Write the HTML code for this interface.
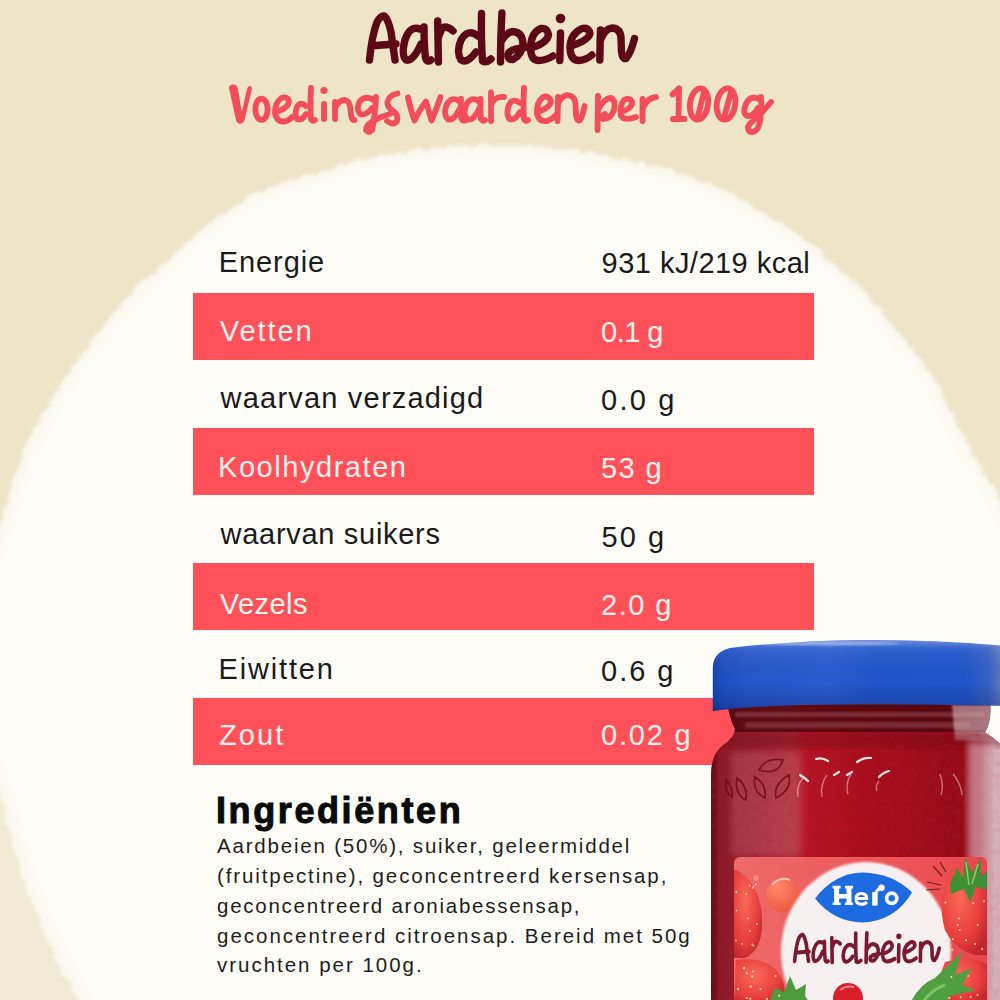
<!DOCTYPE html>
<html><head><meta charset="utf-8">
<style>
html,body{margin:0;padding:0;}
body{width:1000px;height:1000px;overflow:hidden;position:relative;background:#ECE2C6;font-family:"Liberation Sans",sans-serif;}
.abs{position:absolute;}
#bg{position:absolute;left:0;top:0;width:1000px;height:1000px;}
.bar{position:absolute;left:193px;width:621px;height:67px;background:#FF5159;}
.t{position:absolute;font-size:29px;line-height:29px;white-space:nowrap;color:#1a1a1a;letter-spacing:0.8px;}
.w{color:#FFF1EC;}
.ing{position:absolute;left:217px;font-size:20.5px;line-height:20px;white-space:nowrap;color:#1d1d1d;letter-spacing:1.75px;}
</style></head>
<body>
<svg id="bg" width="1000" height="1000" viewBox="0 0 1000 1000">
  <defs>
    <filter id="rough" x="-10%" y="-10%" width="120%" height="120%">
      <feTurbulence type="fractalNoise" baseFrequency="0.09" numOctaves="3" seed="7" result="n"/>
      <feDisplacementMap in="SourceGraphic" in2="n" scale="10" xChannelSelector="R" yChannelSelector="G"/>
      <feGaussianBlur stdDeviation="1.4"/>
    </filter>
    <filter id="soft" x="-10%" y="-10%" width="120%" height="120%">
      <feGaussianBlur stdDeviation="6"/>
    </filter>
  </defs>
  <rect width="1000" height="1000" fill="#EEE4C8"/>
  <ellipse cx="40" cy="900" rx="90" ry="200" fill="#ffffff" opacity="0.22" filter="url(#soft)"/>
  <path d="M-20.0 580.0 C-17.5 573.3 -9.7 553.3 -5.0 540.0 C-0.3 526.7 3.2 514.7 8.0 500.0 C12.8 485.3 18.0 466.7 24.0 452.0 C30.0 437.3 36.0 426.0 44.0 412.0 C52.0 398.0 62.7 381.3 72.0 368.0 C81.3 354.7 90.0 344.7 100.0 332.0 C110.0 319.3 120.7 304.0 132.0 292.0 C143.3 280.0 155.3 271.3 168.0 260.0 C180.7 248.7 192.7 235.3 208.0 224.0 C223.3 212.7 241.3 200.7 260.0 192.0 C278.7 183.3 296.7 178.7 320.0 172.0 C343.3 165.3 370.0 156.5 400.0 152.0 C430.0 147.5 466.7 144.5 500.0 145.0 C533.3 145.5 566.7 149.2 600.0 155.0 C633.3 160.8 670.8 169.2 700.0 180.0 C729.2 190.8 755.2 208.2 775.0 220.0 C794.8 231.8 805.3 240.2 819.0 251.0 C832.7 261.8 843.5 271.0 857.0 285.0 C870.5 299.0 887.0 319.2 900.0 335.0 C913.0 350.8 924.2 362.5 935.0 380.0 C945.8 397.5 954.2 420.0 965.0 440.0 C975.8 460.0 989.2 478.3 1000.0 500.0 C1010.8 521.7 1021.7 546.7 1030.0 570.0 C1038.3 593.3 1046.7 628.3 1050.0 640.0 L1060 1060 L100 1060 L100 1050 C96.3 1041.7 83.2 1010.8 78.0 1000.0 C72.8 989.2 74.5 996.0 69.0 985.0 C63.5 974.0 52.5 951.5 45.0 934.0 C37.5 916.5 30.0 898.0 24.0 880.0 C18.0 862.0 13.8 842.7 9.0 826.0 C4.2 809.3 -0.2 794.3 -5.0 780.0 C-9.8 765.7 -17.5 746.7 -20.0 740.0 Z" fill="#FAF7EC" filter="url(#rough)"/>
  <path d="M-20.0 580.0 C-17.5 573.3 -9.7 553.3 -5.0 540.0 C-0.3 526.7 3.2 514.7 8.0 500.0 C12.8 485.3 18.0 466.7 24.0 452.0 C30.0 437.3 36.0 426.0 44.0 412.0 C52.0 398.0 62.7 381.3 72.0 368.0 C81.3 354.7 90.0 344.7 100.0 332.0 C110.0 319.3 120.7 304.0 132.0 292.0 C143.3 280.0 155.3 271.3 168.0 260.0 C180.7 248.7 192.7 235.3 208.0 224.0 C223.3 212.7 241.3 200.7 260.0 192.0 C278.7 183.3 296.7 178.7 320.0 172.0 C343.3 165.3 370.0 156.5 400.0 152.0 C430.0 147.5 466.7 144.5 500.0 145.0 C533.3 145.5 566.7 149.2 600.0 155.0 C633.3 160.8 670.8 169.2 700.0 180.0 C729.2 190.8 755.2 208.2 775.0 220.0 C794.8 231.8 805.3 240.2 819.0 251.0 C832.7 261.8 843.5 271.0 857.0 285.0 C870.5 299.0 887.0 319.2 900.0 335.0 C913.0 350.8 924.2 362.5 935.0 380.0 C945.8 397.5 954.2 420.0 965.0 440.0 C975.8 460.0 989.2 478.3 1000.0 500.0 C1010.8 521.7 1021.7 546.7 1030.0 570.0 C1038.3 593.3 1046.7 628.3 1050.0 640.0 L1060 1060 L100 1060 L100 1050 C96.3 1041.7 83.2 1010.8 78.0 1000.0 C72.8 989.2 74.5 996.0 69.0 985.0 C63.5 974.0 52.5 951.5 45.0 934.0 C37.5 916.5 30.0 898.0 24.0 880.0 C18.0 862.0 13.8 842.7 9.0 826.0 C4.2 809.3 -0.2 794.3 -5.0 780.0 C-9.8 765.7 -17.5 746.7 -20.0 740.0 Z" fill="#FDFCF7" filter="url(#soft)" transform="translate(500 640) scale(0.986) translate(-500 -640)"/>
</svg>

<svg class="abs" style="left:0;top:0" width="1000" height="150" viewBox="0 0 1000 150">
<g fill="none" stroke="#5C0915" stroke-width="7.4" stroke-linecap="round" stroke-linejoin="round">
<path d="M369.5 60 Q372 35 377 22 Q381 15 384.5 16 Q388 19 391 32 L395 60"/><path d="M375.5 45.5 L396 44"/>
<path d="M420 29 Q410 25 405 40 Q401 55 406 60 Q413 62 421 44"/><path d="M424 27 Q424 45 425.5 58 Q427 63 431 60"/>
<path d="M437.7 21 Q438 42 438.4 62"/><path d="M438.4 37 Q442 27 444.5 27 Q449 27 453 31"/>
<path d="M478 36 Q468 28 461 40 Q456 52 461 60 Q467 64 476 52"/><path d="M481.5 13.5 Q481 40 482.5 61 Q486 63 491 59"/>
<path d="M501.9 13 Q500.5 40 500.5 62"/><path d="M502 40 Q507 32 513 31.5 Q522 32 523 43 Q522 55 513 59.5 Q507 60 508 54 Q510 49 525 47.5"/>
<path d="M531 48 Q547 43 548.5 35 Q547.5 27.5 541 28.5 Q531.5 32 530.5 47 Q530.5 60 538 60.5 Q546 60.5 553 56"/>
<path d="M560.5 33 L559.8 60.5"/>
<path d="M571 46 Q589 40 590 33.5 Q588.5 27 582 28.5 Q570 34 570 48 Q570.5 60.5 579 60.5 Q586 60 592 55"/>
<path d="M600.5 30 Q600 46 599.8 60"/><path d="M600.5 40 Q605 28.5 612 28 Q620.5 28.5 621 38 L621.5 52 Q622.5 59.5 626 58.5 Q631 53 634.5 38.5"/>
</g>
<circle cx="560.5" cy="18.5" r="4.8" fill="#5C0915"/>
<g fill="none" stroke="#F24D58" stroke-width="5.8" stroke-linecap="round" stroke-linejoin="round">

<ellipse cx="261.5" cy="109.3" rx="6.2" ry="10.6"/>
<path d="M275.5 112 Q289 108 289 101 Q287.5 96 281.5 98 Q274.5 103 275 113 Q276.5 122 284 121.5 Q289 121 292 117"/>
<path d="M306 106 Q300 101 297 107 Q294 115 297 119 Q302 121 306 114"/><path d="M311 88 Q310 105 311 119 Q312 122 315 120"/>
<path d="M324 104 L324 119"/>
<path d="M335 102 L335 119"/><path d="M335 108 Q339 100 345 100 Q350 101 350.5 110 Q351 121 354.5 120"/>
<path d="M374 100 Q366 95 360 101 Q355.5 109 360 114 Q366 116 372 108"/><path d="M376 97 Q375 118 372 130 Q369 134 366 130 Q366 125 373 121 Q382 116 390 114"/>
<path d="M397.5 93.5 Q389 95 387.5 102 Q387 107 393 111 Q399 115 397 121 Q394 126 387 121"/>
<path d="M408 97.5 Q411 111 414.5 120.5 Q420 109 426 101.5 Q429 112 431.5 120.5 Q437 108 440.5 97"/>
<path d="M459 101 Q451 96 446.5 105 Q443 115 448 119.5 Q454 121 459.5 109"/><path d="M461 99 Q460.5 112 461.5 119 Q463 122 466 120"/>
<path d="M478.5 101 Q470.5 96 466 105 Q462.5 115 467.5 119.5 Q473.5 121 479 109"/><path d="M480.6 99 Q480 112 481 119 Q482.5 122 485 120"/>
<path d="M491 92.5 L491 121"/><path d="M491.5 104 Q495 96 504 97"/>
<path d="M520 103 Q512 97 508.5 106 Q506 115 509.5 119 Q515 121 520 112"/><path d="M524 88 Q523 105 524 119 Q525 122 528 120"/>
<path d="M538 112 Q551 107 551 101 Q549 95 543 97 Q536 103 537 114 Q539 122 547 121 Q553 119 557 114"/>
<path d="M558 97 L557.5 121"/><path d="M558 104 Q562 95 568 95 Q575 96 575.5 104 L576 115 Q577 122 580 120 Q583 115 584.5 106"/>
<path d="M598 96 L597.5 130"/><path d="M598 110 Q604 98 611 98 Q616 100 614 110 Q611 119 603 119 Q600 116 605 114"/>
<path d="M621 112 Q633 108 632 102 Q630 97 624 100 Q619 106 621 116 Q625 121 636 117"/>
<path d="M642.5 99 L642.5 121"/><path d="M643 108 Q647 98 656 97"/>
<path d="M672.5 94.5 L679 88.5"/><path d="M679 88.5 L678.5 119"/><path d="M673 119 L684.5 119"/>
<ellipse cx="699" cy="104" rx="9" ry="15.8" transform="rotate(8 699 104)"/><path d="M698 116 L704 92"/>
<ellipse cx="726" cy="104" rx="9.2" ry="15.8" transform="rotate(8 726 104)"/><path d="M724.5 116 L731 92"/>
<path d="M759 99 Q750 95 746 104 Q742 113 747 116 Q753 117 758 108"/><path d="M761 97 Q762 118 758 128 Q754 134 749 131 Q746 126 753 121 Q761 114 771 102"/>
</g>
<circle cx="324" cy="90.5" r="3.6" fill="#F24D58"/>
<path d="M229 88 Q229 84.5 233 84.5 Q237 84.5 237.8 88.5 L241.8 112 L247 89 Q248 85.5 250 86 Q252.5 86.5 251.8 89.5 L244.5 120 Q243 123.8 240 123.8 Q237 123.8 236 120 Z" fill="#F24D58"/>
</svg>

<div class="bar" style="top:293px"></div>
<div class="bar" style="top:428px"></div>
<div class="bar" style="top:563px"></div>
<div class="bar" style="top:698px"></div>

<div class="t" style="left:218.8px;top:248px;letter-spacing:0.9px">Energie</div>
<div class="t" style="left:601.6px;top:249px;letter-spacing:0.47px">931 kJ/219 kcal</div>
<div class="t w" style="left:219.8px;top:316.6px;letter-spacing:1.9px">Vetten</div>
<div class="t w" style="left:601px;top:318.2px;letter-spacing:-0.5px">0.1 g</div>
<div class="t" style="left:220.6px;top:383.8px;letter-spacing:1.2px">waarvan verzadigd</div>
<div class="t" style="left:601px;top:386px;letter-spacing:2.25px">0.0 g</div>
<div class="t w" style="left:218px;top:452.8px;letter-spacing:1.55px">Koolhydraten</div>
<div class="t w" style="left:601px;top:454.4px;letter-spacing:1.4px">53 g</div>
<div class="t" style="left:220.6px;top:520.2px;letter-spacing:0.7px">waarvan suikers</div>
<div class="t" style="left:601.5px;top:522.5px;letter-spacing:2.1px">50 g</div>
<div class="t w" style="left:219.8px;top:589.6px;letter-spacing:0.45px">Vezels</div>
<div class="t w" style="left:601px;top:591px;letter-spacing:1.5px">2.0 g</div>
<div class="t" style="left:218.5px;top:655.2px;letter-spacing:1.83px">Eiwitten</div>
<div class="t" style="left:601px;top:656.5px;letter-spacing:2px">0.6 g</div>
<div class="t w" style="left:219px;top:720.6px;letter-spacing:2.07px">Zout</div>
<div class="t w" style="left:601px;top:721px;letter-spacing:1.8px">0.02 g</div>

<div class="abs" style="left:216px;top:793.4px;font-size:36px;line-height:36px;font-weight:bold;color:#0a0a0a;letter-spacing:2.6px;-webkit-text-stroke:1px #0a0a0a;white-space:nowrap;">Ingrediënten</div>
<div class="ing" style="top:836px;letter-spacing:1.8px">Aardbeien (50%), suiker, geleermiddel</div>
<div class="ing" style="top:865.5px;letter-spacing:1.89px">(fruitpectine), geconcentreerd kersensap,</div>
<div class="ing" style="top:896px">geconcentreerd aroniabessensap,</div>
<div class="ing" style="top:925.5px;letter-spacing:1.99px">geconcentreerd citroensap. Bereid met 50g</div>
<div class="ing" style="top:954.5px;letter-spacing:1.98px">vruchten per 100g.</div>

<svg class="abs" id="jar" style="left:0;top:0" width="1000" height="1000" viewBox="0 0 1000 1000">
  <defs>
    <linearGradient id="lidg" x1="0" y1="0" x2="1" y2="0">
      <stop offset="0" stop-color="#1644b0"/>
      <stop offset="0.03" stop-color="#1d4fc0"/>
      <stop offset="0.12" stop-color="#2656c8"/>
      <stop offset="0.4" stop-color="#2a5cd0"/>
      <stop offset="0.55" stop-color="#2054c8"/>
      <stop offset="0.86" stop-color="#1f55ca"/>
      <stop offset="0.94" stop-color="#3660c4"/>
      <stop offset="1" stop-color="#7080b8"/>
    </linearGradient>
    <linearGradient id="lidv" x1="0" y1="0" x2="0" y2="1">
      <stop offset="0" stop-color="#ffffff" stop-opacity="0.35"/>
      <stop offset="0.12" stop-color="#ffffff" stop-opacity="0.08"/>
      <stop offset="0.6" stop-color="#000000" stop-opacity="0"/>
      <stop offset="0.92" stop-color="#000030" stop-opacity="0.18"/>
      <stop offset="1" stop-color="#000030" stop-opacity="0.35"/>
    </linearGradient>
    <linearGradient id="bodyg" x1="0" y1="0" x2="1" y2="0">
      <stop offset="0" stop-color="#6c0c18"/>
      <stop offset="0.06" stop-color="#8c1a26"/>
      <stop offset="0.3" stop-color="#a82636"/>
      <stop offset="0.33" stop-color="#b41424"/>
      <stop offset="0.55" stop-color="#a80e1c"/>
      <stop offset="0.85" stop-color="#960a18"/>
      <stop offset="0.9" stop-color="#a82636"/>
      <stop offset="0.95" stop-color="#d4b4bc"/>
      <stop offset="1" stop-color="#ccacb4"/>
    </linearGradient>
    <linearGradient id="labg" x1="0" y1="0" x2="1" y2="0">
      <stop offset="0" stop-color="#ec6a68"/>
      <stop offset="0.5" stop-color="#ee5a5c"/>
      <stop offset="1" stop-color="#e8484e"/>
    </linearGradient>
    <radialGradient id="cloud" cx="0.5" cy="0.5" r="0.5">
      <stop offset="0.8" stop-color="#f8eeee"/>
      <stop offset="1" stop-color="#f8eeee" stop-opacity="0"/>
    </radialGradient>
    <radialGradient id="straw" cx="0.4" cy="0.35" r="0.7">
      <stop offset="0" stop-color="#fa6a58"/>
      <stop offset="0.7" stop-color="#e63c3c"/>
      <stop offset="1" stop-color="#c02830"/>
    </radialGradient>
    <radialGradient id="cher" cx="0.35" cy="0.3" r="0.7">
      <stop offset="0" stop-color="#ff8a68"/>
      <stop offset="1" stop-color="#ee5a44"/>
    </radialGradient>
    <filter id="blur1"><feGaussianBlur stdDeviation="1"/></filter>
    <filter id="jamtex" x="0" y="0" width="100%" height="100%">
      <feTurbulence type="fractalNoise" baseFrequency="0.18" numOctaves="2" seed="11"/>
      <feColorMatrix type="matrix" values="0 0 0 0 0.35  0 0 0 0 0.02  0 0 0 0 0.05  1.6 0 0 0 -0.75"/>
    </filter>
    <filter id="blur3"><feGaussianBlur stdDeviation="3"/></filter>
    <clipPath id="labclip"><rect x="734" y="857" width="253" height="150" rx="6"/></clipPath>
  </defs>
  <clipPath id="bodyclip"><path d="M727 700 L990 700 Q992 722 985 732 Q1000 742 1006 750 L1006 1006 L711 1006 L711 775 Q711 755 722 746 Q735 737 735 729 Q729 718 727 700 Z"/></clipPath>
  <g clip-path="url(#bodyclip)">
  <rect x="700" y="690" width="310" height="320" fill="url(#bodyg)"/>
  <!-- neck darker band -->
  <rect x="700" y="690" width="310" height="42" fill="#4a060c" opacity="0.8"/>
  <rect x="735" y="712" width="250" height="5" fill="#9a5058" opacity="0.55" filter="url(#blur1)"/>
  <rect x="745" y="722" width="225" height="6" fill="#9a5058" opacity="0.5" filter="url(#blur1)"/>
  <path d="M952 705 L995 705 L995 742 L955 740 Z" fill="#d8b8bc" opacity="0.6" filter="url(#blur1)"/>
  <!-- top band of body -->
  <rect x="700" y="732" width="310" height="16" fill="#6a0a14" opacity="0.35" filter="url(#blur3)"/>
  <!-- left glass highlight -->
  <rect x="731" y="752" width="72" height="104" fill="#e08890" opacity="0.25" filter="url(#blur3)"/>
  <!-- dark left edge -->
  <rect x="705" y="740" width="12" height="270" fill="#5a0a14" opacity="0.6" filter="url(#blur1)"/>
  <rect x="700" y="732" width="310" height="280" filter="url(#jamtex)" opacity="0.45"/>
  <!-- right glass reflection -->
  <path d="M968 742 Q985 742 1010 750 L1010 1010 L975 1010 Q966 900 968 742 Z" fill="#d8b0b8" opacity="0.6" filter="url(#blur3)"/>
  </g>
  <!-- embossed pattern -->
  <g fill="none" stroke="#6a0810" stroke-width="1.8" opacity="0.75">
    <path d="M759 770 Q766 757 783 760 Q778 776 759 770 Z"/>
    <path d="M737 778 Q748 786 746 800 Q734 794 737 778 Z"/>
    <path d="M755 777 Q767 784 765 798 Q752 792 755 777 Z"/>
    <path d="M789 775 Q792 790 776 798 Q773 784 789 775 Z"/>
    <path d="M726 780 Q734 788 732 797 Q724 792 726 780 Z"/>
  </g>
  <g fill="none" stroke="#ffffff" stroke-width="2.2" stroke-linecap="round" opacity="0.9">
    <path d="M800 775 Q805 778 808 781"/>
    <path d="M816 759 Q822 757 828 761"/>
    <path d="M834 775 L839 772"/>
    <path d="M857 762 Q864 757 871 758"/>
    <path d="M879 777 Q884 772 889 771"/>
    <path d="M847 775 L852 772"/>
  </g>
  <g fill="none" stroke="#f0c8c8" stroke-width="1.4" opacity="0.55">
    <path d="M803 778 Q796 786 798 797"/>
    <path d="M827 775 Q820 784 822 797"/>
    <path d="M851 774 Q845 784 848 794"/>
    <path d="M879 781 Q875 786 877 791"/>
    <path d="M940 774 Q944 785 941 795"/>
    <path d="M953 774 Q961 783 962 795"/>
  </g>
  <!-- label -->
  <g clip-path="url(#labclip)">
    <rect x="734" y="857" width="253" height="150" fill="url(#labg)"/>
    <!-- strawberries left -->
    <path d="M736 870 Q758 880 762 915 Q764 950 745 958 L734 958 L734 870 Z" fill="url(#straw)"/>
    <path d="M736 960 Q775 955 784 985 L786 1006 L734 1006 Z" fill="url(#straw)"/>
    <!-- cherry -->
    <circle cx="783" cy="895" r="17" fill="url(#cher)"/>
    <path d="M772 885 Q780 876 790 880" stroke="#ffd8d0" stroke-width="2" fill="none" opacity="0.8"/>
    <circle cx="756" cy="878" r="3" fill="#f8a090" opacity="0.6"/>
    <!-- white cloud -->
    <ellipse cx="866" cy="952" rx="85" ry="90" fill="#f7f0f0" filter="url(#blur1)"/>
    <!-- right strawberry -->
    <path d="M952 868 Q978 862 987 880 L987 955 Q960 958 945 930 Q936 900 952 868 Z" fill="url(#straw)"/>
    <path d="M950 884 L957 868 L963 878 L965 857 L972 873 L981 858 L980 877 L988 870 L988 890 L976 887 L970 902 L964 889 L951 894 Z" fill="#3f8f35"/>
    <path d="M966 862 L969 885 M978 864 L972 884" stroke="#8fcf6a" stroke-width="1.5" fill="none"/>
    <g stroke="#7a1a20" stroke-width="1.2">
      <path d="M927 882 L941 885"/><path d="M926 890 L940 889"/><path d="M933 866 L942 876"/><path d="M940 862 L946 872"/>
    </g>
    <!-- bottom right strawberry + leaves -->
    <path d="M945 962 Q975 955 987 965 L987 1006 L940 1006 Q935 985 945 962 Z" fill="url(#straw)"/>
    <path d="M909 1006 Q918 985 935 978 L962 952 L955 975 L972 968 L962 985 L976 990 L950 996 L945 1006 Z" fill="#4f9f42"/>
    <path d="M920 1006 Q930 990 945 985" stroke="#90d070" stroke-width="3" fill="none" opacity="0.7"/>
    <!-- bottom left leaves -->
    <path d="M767 1006 L775 988 L784 992 L790 976 L796 990 L806 984 L805 996 L812 1006 Z" fill="#4e9a3e"/>
    <!-- bottom cherry -->
    <circle cx="848" cy="998" r="15" fill="#d8202a"/>
    <path d="M840 990 Q846 985 854 987" stroke="#ffb0b0" stroke-width="2" fill="none" opacity="0.7"/>
    <!-- seeds -->
    <g fill="#fbe8a0" opacity="0.9"><circle cx="749.7" cy="930.9" r="0.9"/><circle cx="753.5" cy="945.7" r="0.9"/><circle cx="752.3" cy="944.3" r="0.9"/><circle cx="736.6" cy="910.5" r="0.9"/><circle cx="756.8" cy="924.0" r="0.9"/><circle cx="755.8" cy="884.4" r="0.9"/><circle cx="746.3" cy="894.2" r="0.9"/><circle cx="748.0" cy="918.5" r="0.9"/><circle cx="736.3" cy="892.0" r="0.9"/><circle cx="742.1" cy="943.8" r="0.9"/><circle cx="752.8" cy="887.8" r="0.9"/><circle cx="753.5" cy="886.3" r="0.9"/><circle cx="749.6" cy="885.4" r="0.9"/><circle cx="736.0" cy="940.5" r="0.9"/><circle cx="746.8" cy="973.3" r="1.1"/><circle cx="779.3" cy="995.7" r="1.1"/><circle cx="750.2" cy="998.7" r="1.1"/><circle cx="760.6" cy="989.0" r="1.1"/><circle cx="746.6" cy="998.0" r="1.1"/><circle cx="767.0" cy="998.9" r="1.1"/><circle cx="775.5" cy="976.2" r="1.1"/><circle cx="753.2" cy="971.6" r="1.1"/><circle cx="744.1" cy="968.2" r="1.1"/><circle cx="750.7" cy="986.5" r="1.1"/><circle cx="738.1" cy="989.0" r="1.1"/><circle cx="752.2" cy="976.5" r="1.1"/><circle cx="977.7" cy="925.0" r="1.0"/><circle cx="957.6" cy="925.0" r="1.0"/><circle cx="973.2" cy="903.0" r="1.0"/><circle cx="984.0" cy="901.2" r="1.0"/><circle cx="975.0" cy="943.9" r="1.0"/><circle cx="945.7" cy="941.0" r="1.0"/><circle cx="959.6" cy="930.1" r="1.0"/><circle cx="945.4" cy="902.4" r="1.0"/><circle cx="952.2" cy="949.7" r="1.0"/><circle cx="952.9" cy="939.3" r="1.0"/><circle cx="982.2" cy="949.0" r="1.0"/><circle cx="958.8" cy="918.4" r="1.0"/><circle cx="966.0" cy="940.3" r="1.0"/><circle cx="949.3" cy="938.9" r="1.0"/><circle cx="977.5" cy="995.1" r="1.0"/><circle cx="949.4" cy="998.1" r="1.0"/><circle cx="951.4" cy="976.9" r="1.0"/><circle cx="970.6" cy="997.1" r="1.0"/><circle cx="960.6" cy="997.3" r="1.0"/><circle cx="968.2" cy="975.9" r="1.0"/></g>
    <!-- Hero logo -->
    <path d="M815 898.4 Q835 873 862.6 872.6 Q892 873 912 892.4 Q895 921 862.6 922.4 Q834 922 815 898.4 Z" fill="#1C6BE0"/>
    <path d="M832.6 885.8 h8 v2.6 h-1.5 v5.6 h7.4 v-5.6 h-1.5 v-2.6 h8 v2.6 h-1.5 v14 h1.5 v2.6 h-8 v-2.6 h1.5 v-4 h-7.4 v4 h1.5 v2.6 h-8 v-2.6 h1.5 v-14 h-1.5 Z" fill="#ffffff"/>
    <path d="M856 898.5 L866.8 898.5 Q866.5 893.5 861.3 893.5 Q856 893.5 856 899 Q856 904.3 861.5 904.3 Q865 904.3 866.8 902" fill="none" stroke="#ffffff" stroke-width="3"/>
    <rect x="872.2" y="892" width="5.4" height="13.6" fill="#ffffff"/>
    <path d="M875 895 Q877 889 881 888" stroke="#ffffff" stroke-width="3" fill="none"/>
    <circle cx="881.5" cy="887.8" r="3.2" fill="#ffffff"/>
    <circle cx="891.7" cy="898.3" r="5.1" fill="none" stroke="#ffffff" stroke-width="3.7"/>
    <!-- label Aardbeien -->
    <g fill="none" stroke="#7a1a30" stroke-width="6.6" stroke-linecap="round" stroke-linejoin="round" transform="translate(793 932) scale(0.546 0.6) translate(-366.6 -11.4)">
<path d="M369.5 60 Q372 35 377 22 Q381 15 384.5 16 Q388 19 391 32 L395 60"/><path d="M375.5 45.5 L396 44"/>
<path d="M420 29 Q410 25 405 40 Q401 55 406 60 Q413 62 421 44"/><path d="M424 27 Q424 45 425.5 58 Q427 63 431 60"/>
<path d="M437.7 21 Q438 42 438.4 62"/><path d="M438.4 37 Q442 27 444.5 27 Q449 27 453 31"/>
<path d="M478 36 Q468 28 461 40 Q456 52 461 60 Q467 64 476 52"/><path d="M481.5 13.5 Q481 40 482.5 61 Q486 63 491 59"/>
<path d="M501.9 13 Q500.5 40 500.5 62"/><path d="M502 40 Q507 32 513 31.5 Q522 32 523 43 Q522 55 513 59.5 Q507 60 508 54 Q510 49 525 47.5"/>
<path d="M531 48 Q547 43 548.5 35 Q547.5 27.5 541 28.5 Q531.5 32 530.5 47 Q530.5 60 538 60.5 Q546 60.5 553 56"/>
<path d="M560.5 33 L559.8 60.5"/>
<path d="M571 46 Q589 40 590 33.5 Q588.5 27 582 28.5 Q570 34 570 48 Q570.5 60.5 579 60.5 Q586 60 592 55"/>
<path d="M600.5 30 Q600 46 599.8 60"/><path d="M600.5 40 Q605 28.5 612 28 Q620.5 28.5 621 38 L621.5 52 Q622.5 59.5 626 58.5 Q631 53 634.5 38.5"/>
<circle cx="560.5" cy="18.5" r="4.8" fill="#7a1a30" stroke="none"/></g>
  </g>
  <!-- lid -->
  <path d="M712.8 711 L712.8 668 Q713 652 730 648 Q790 641 860 640 Q940 640 1006 646 L1006 706 Q900 703 800 705 Q740 707 712.8 711 Z" fill="url(#lidg)"/>
  <path d="M712.8 711 L712.8 668 Q713 652 730 648 Q790 641 860 640 Q940 640 1006 646 L1006 706 Q900 703 800 705 Q740 707 712.8 711 Z" fill="url(#lidv)"/>
  <ellipse cx="830" cy="643.5" rx="70" ry="2" fill="#ffffff" opacity="0.35" filter="url(#blur1)"/>
</svg>
</body></html>
